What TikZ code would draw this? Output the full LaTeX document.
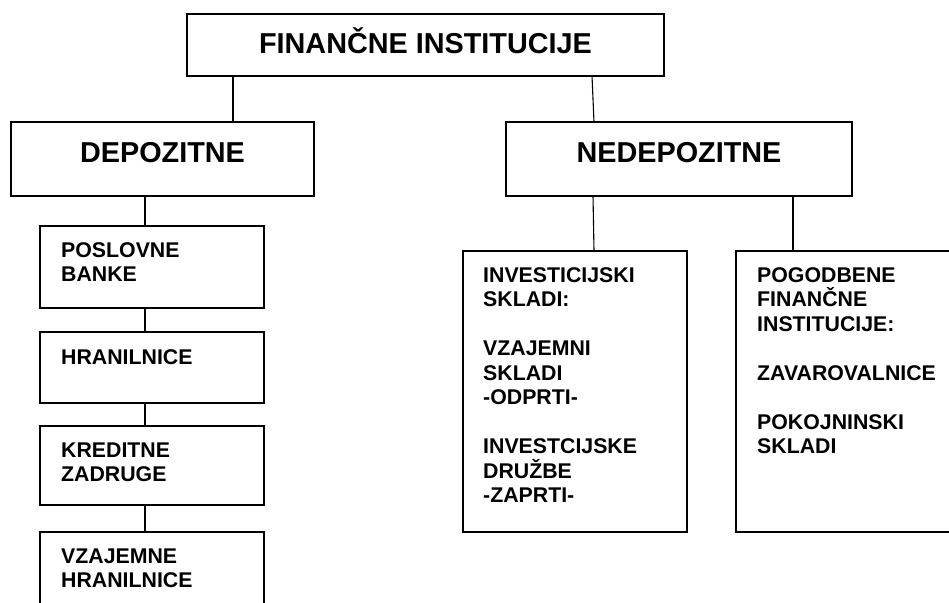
\documentclass[tikz,border=0pt]{standalone}
\usepackage{fontspec}
\setmainfont{Liberation Sans}
\usetikzlibrary{positioning, calc}

\tikzset{
  box/.style={draw, line width=1.5pt, inner sep=0pt, outer sep=0pt, anchor=north west},
  link/.style={line width=1.1pt},
  title/.style={font=\fontsize{28.8}{34}\selectfont\bfseries, inner sep=0pt, anchor=base},
  item/.style={font=\fontsize{21.3}{24.5}\selectfont\bfseries, align=left,
    text width=200pt, inner sep=0pt, anchor=base west},
}

\begin{document}
\begin{tikzpicture}[x=1pt,y=-1pt]
\useasboundingbox (0,0) rectangle (949,602);
\clip (0,0) rectangle (949,602);

% top level
\node[box, minimum width=477pt, minimum height=62pt] (fin) at (187,14) {};
\node[title] (tfin) at ([yshift=-39pt]fin.north) {FINANČNE INSTITUCIJE};

\node[box, minimum width=303pt, minimum height=74pt] (dep) at (11,122) {};
\node[title] (tdep) at ([yshift=-40pt]dep.north) {DEPOZITNE};
\node[box, minimum width=346pt, minimum height=74pt] (nedep) at (506,122) {};
\node[title] (tnedep) at ([yshift=-40pt]nedep.north) {NEDEPOZITNE};

\draw[link] ([xshift=46pt]fin.south west) -- ([xshift=222pt]dep.north west);
\draw[link] ([xshift=-72pt]fin.south east) -- ([xshift=88pt]nedep.north west);

% depozitne
\node[box, minimum width=224pt, minimum height=82pt] (pb) at (40,226) {};
\node[item] (tpb) at ([xshift=21pt,yshift=-31pt]pb.north west) {POSLOVNE\\BANKE};
\node[box, minimum width=224pt, minimum height=71pt] (hr) at (40,332) {};
\node[item] (thr) at ([xshift=21pt,yshift=-32pt]hr.north west) {HRANILNICE};
\node[box, minimum width=224pt, minimum height=79pt] (kz) at (40,426) {};
\node[item] (tkz) at ([xshift=21pt,yshift=-31pt]kz.north west) {KREDITNE\\ZADRUGE};
\node[box, minimum width=224pt, minimum height=90pt] (vh) at (40,532) {};
\node[item] (tvh) at ([xshift=21pt,yshift=-31pt]vh.north west) {VZAJEMNE\\HRANILNICE};

\draw[link] ([xshift=134pt]dep.south west) -- ([xshift=105pt]pb.north west);
\foreach \a/\b in {pb/hr, hr/kz, kz/vh}
  \draw[link] ([xshift=-7pt]\a.south) -- ([xshift=-7pt]\b.north);

% nedepozitne
\node[box, minimum width=224pt, minimum height=281pt] (inv) at (463,251) {};
\node[item] (tinv) at ([xshift=20pt,yshift=-31pt]inv.north west)
  {INVESTICIJSKI\\SKLADI:\\[24.5pt]VZAJEMNI\\SKLADI\\-ODPRTI-\\[24.5pt]INVESTCIJSKE\\DRUŽBE\\-ZAPRTI-};
\node[box, minimum width=240pt, minimum height=281pt] (pog) at (736,251) {};
\node[item] (tpog) at ([xshift=21pt,yshift=-31pt]pog.north west)
  {POGODBENE\\FINANČNE\\INSTITUCIJE:\\[24.5pt]ZAVAROVALNICE\\[24.5pt]POKOJNINSKI\\SKLADI};

\draw[link] ([xshift=87pt]nedep.south west) -- ([xshift=131pt]inv.north west);
\draw[link] ([xshift=287pt]nedep.south west) -- ([xshift=57pt]pog.north west);

\end{tikzpicture}
\end{document}
